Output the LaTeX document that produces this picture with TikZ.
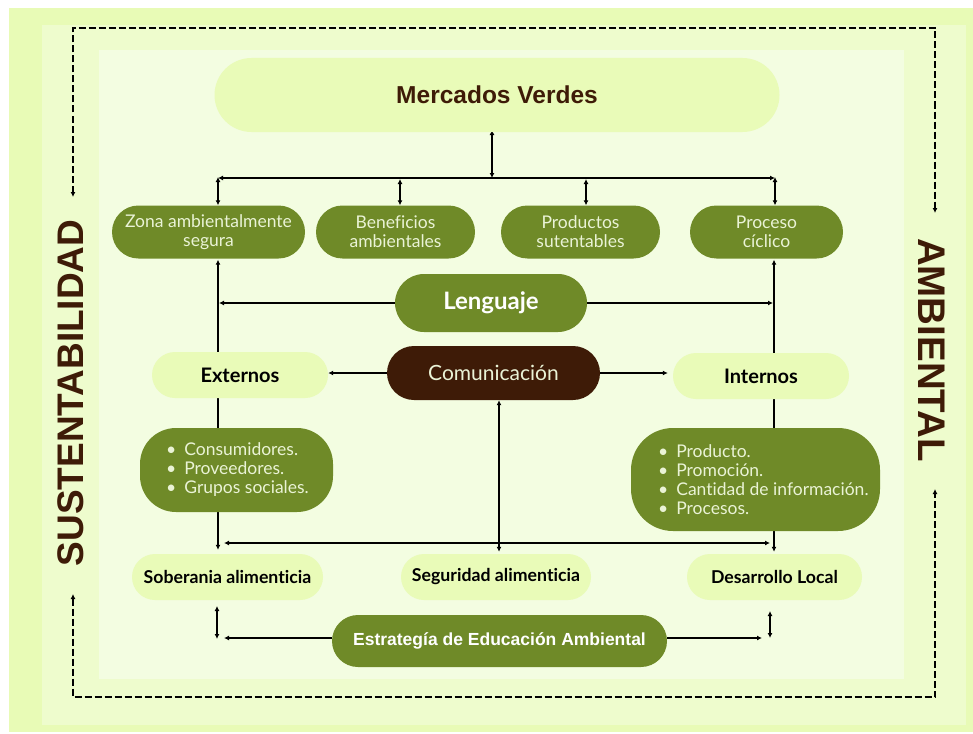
\documentclass[tikz,border=0pt]{standalone}
\usepackage{fontspec}
\setmainfont[Ligatures=NoCommon]{Lato}
\newfontfamily\headfont{Liberation Sans}
\usetikzlibrary{arrows.meta}
\definecolor{bgA}{HTML}{E8FBB6}
\definecolor{bgB}{HTML}{EEFCCD}
\definecolor{bgC}{HTML}{F3FDE1}
\definecolor{olive}{HTML}{6F8A28}
\definecolor{brownD}{HTML}{3E1B07}
\definecolor{pale}{HTML}{E9FBB8}
\definecolor{ltext}{HTML}{EAF3D6}
\pgfdeclarelayer{bgfill}
\pgfdeclarelayer{edges}
\pgfsetlayers{bgfill,edges,main}
\begin{document}
\begin{tikzpicture}[x=1pt,y=-1pt,
  one/.style={line width=1.5pt,draw=black,-{Latex[length=5pt,width=5pt]}},
  both/.style={line width=1.5pt,draw=black,{Latex[length=5pt,width=5pt]}-{Latex[length=5pt,width=5pt]}},
  dashline/.style={line width=1.4pt,draw=black,dash pattern=on 7pt off 3pt,{Latex[length=5pt,width=5pt]}-{Latex[length=5pt,width=5pt]}},
  greenpill/.style={fill=olive,text=ltext,align=center,inner sep=0pt,font=\fontsize{17.5}{19}\selectfont},
  palepill/.style={fill=pale,text=black,align=center,inner sep=0pt,font=\bfseries\fontsize{17.7}{20}\selectfont},
  bigside/.style={text=brownD,font=\headfont\bfseries\fontsize{37}{40}\selectfont}
]
\useasboundingbox (0,0) rectangle (973,733);
% backgrounds
\begin{pgfonlayer}{bgfill}
\fill[white] (0,0) rectangle (973,733);
\fill[bgA] (9,8) rectangle (973,732);
\fill[bgB] (42,25) rectangle (966,725);
\fill[bgC] (99,50) rectangle (904,679);
\end{pgfonlayer}

% dashed frame
\coordinate (dTL) at (73,28);
\coordinate (dTR) at (935,28);
\coordinate (dBL) at (73,697);
\coordinate (dBR) at (935,697);
\coordinate (dLa) at (73,197);
\coordinate (dRa) at (935,213);
\coordinate (dLb) at (73,594);
\coordinate (dRb) at (935,489);
\draw[dashline] (dLa) -- (dTL) -- (dTR) -- (dRa);
\draw[dashline] (dLb) -- (dBL) -- (dBR) -- (dRb);

\node[bigside,rotate=90] (sust) at (71,393) {SUSTENTABILIDAD};
\node[bigside,rotate=-90,font=\headfont\bfseries\fontsize{38.5}{40}\selectfont] (amb) at (932,350) {AMBIENTAL};

% nodes
\node[fill=pale,text=brownD,inner sep=0pt,minimum width=565,minimum height=74,rounded corners=37,font=\headfont\bfseries\fontsize{24.5}{28}\selectfont] (mv) at (497,95) {Mercados Verdes};

\node[greenpill,minimum width=193,minimum height=53,rounded corners=26.5] (zona) at (208.5,232) {Zona ambientalmente\\segura};
\node[greenpill,minimum width=159,minimum height=53,rounded corners=26.5] (bene) at (395.5,232) {Beneficios\\ambientales};
\node[greenpill,minimum width=159,minimum height=53,rounded corners=26.5] (prod) at (580.5,232) {Productos\\sutentables};
\node[greenpill,minimum width=153,minimum height=53,rounded corners=26.5] (proc) at (766.5,232) {Proceso\\cíclico};

\node[greenpill,minimum width=192,minimum height=58,rounded corners=29,text=white,font=\bfseries\fontsize{24}{26}\selectfont] (leng) at (491,303) {Lenguaje};
\node[fill=brownD,text=ltext,inner sep=0pt,minimum width=213,minimum height=54,rounded corners=27,font=\fontsize{21}{24}\selectfont] (comu) at (493.5,373) {Comunicación};

\node[palepill,minimum width=176,minimum height=46,rounded corners=23,font=\bfseries\fontsize{20}{22}\selectfont] (ext) at (240,375) {Externos};
\node[palepill,minimum width=176,minimum height=46,rounded corners=23,font=\bfseries\fontsize{20}{22}\selectfont] (int) at (761,376) {Internos};

\node[fill=olive,inner sep=0pt,minimum width=193,minimum height=84,rounded corners=36] (cons) at (236.5,470) {};
\node[text=ltext,anchor=west,inner sep=0pt,align=left,font=\fontsize{17.5}{19}\selectfont] (consT) at (166,470)
  {\textbullet\hspace{8pt}Consumidores.\\\textbullet\hspace{8pt}Proveedores.\\\textbullet\hspace{8pt}Grupos sociales.};
\node[fill=olive,inner sep=0pt,minimum width=249,minimum height=103,rounded corners=42] (pbox) at (755.5,479.5) {};
\node[text=ltext,anchor=west,inner sep=0pt,align=left,font=\fontsize{17.5}{19}\selectfont] (pboxT) at (658,479.5)
  {\textbullet\hspace{8pt}Producto.\\\textbullet\hspace{8pt}Promoción.\\\textbullet\hspace{8pt}Cantidad de información.\\\textbullet\hspace{8pt}Procesos.};

\node[palepill,minimum width=191,minimum height=46,rounded corners=23] (sob) at (227.5,577) {Soberania alimenticia};
\node[palepill,minimum width=190,minimum height=46,rounded corners=23] (seg) at (496,577) {Seguridad alimenticia};
\node[palepill,minimum width=175,minimum height=46,rounded corners=23] (des) at (774.5,577) {Desarrollo Local};

\node[fill=olive,text=white,inner sep=0pt,minimum width=335,minimum height=52,rounded corners=26,font=\headfont\bfseries\fontsize{17.5}{20}\selectfont] (est) at (499.5,641) {Estrategía de Educación Ambiental};

\begin{pgfonlayer}{edges}
% connectors top
\coordinate (mvb) at (492,130);
\coordinate (hub) at (492,178);
\coordinate (hL) at (218,178);
\coordinate (hR) at (775,178);
\coordinate (hB) at (400,179);
\coordinate (hP) at (586,179);
\draw[both] (mvb) -- (hub);
\draw[both] (hL) -- (hR);
\draw[both] ([yshift=1pt]hL) -- (hL |- zona.north);
\draw[both] (hB) -- (hB |- bene.north);
\draw[both] (hP) -- (hP |- prod.north);
\draw[both] ([yshift=1pt]hR) -- (hR |- proc.north);

% side verticals
\coordinate (xL) at (218,0);
\coordinate (xR) at (774,0);
\coordinate (xC) at (499,0);
\draw[both,shorten <=1pt,shorten >=4pt] (zona.south -| xL) -- (sob.north -| xL);
\draw[both,shorten <=1pt,shorten >=2pt] (proc.south -| xR) -- (des.north -| xR);
\draw[both,shorten >=2pt] (comu.south -| xC) -- (seg.north -| xC);

\draw[one] (leng.west) -- ([xshift=1pt]leng.west -| xL);
\draw[one] (leng.east) -- ([xshift=-1pt]leng.east -| xR);
\draw[one] (comu.west) -- (comu.west -| ext.east);
\draw[one] (comu.east) -- ([xshift=-5pt]comu.east -| int.west);

\coordinate (bL) at (224,543);
\coordinate (bR) at (770,543);
\draw[both] (bL) -- (bR);

% bottom
\coordinate (eL) at (224,638);
\coordinate (eR) at (762,638);
\draw[one] (est.west |- eL) -- (eL);
\draw[one] (est.east |- eR) -- (eR);
\coordinate (sL1) at (217,606);
\coordinate (sL2) at (217,639);
\coordinate (sR1) at (770,611);
\coordinate (sR2) at (770,638);
\draw[both] (sL1) -- (sL2);
\draw[both] (sR1) -- (sR2);
\end{pgfonlayer}
\end{tikzpicture}
\end{document}
